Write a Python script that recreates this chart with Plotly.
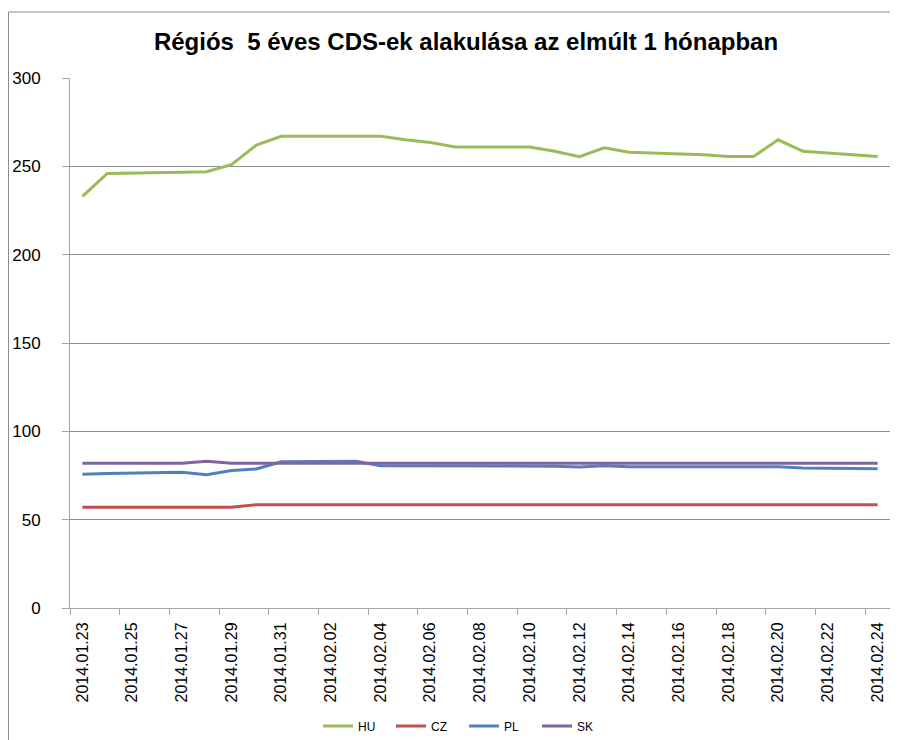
import plotly.graph_objects as go

dates = ["2014-01-23", "2014-01-24", "2014-01-27", "2014-01-28", "2014-01-29", "2014-01-30",
         "2014-01-31", "2014-02-03", "2014-02-04", "2014-02-05", "2014-02-06", "2014-02-07",
         "2014-02-10", "2014-02-11", "2014-02-12", "2014-02-13", "2014-02-14", "2014-02-17",
         "2014-02-18", "2014-02-19", "2014-02-20", "2014-02-21", "2014-02-24"]

hu = [233, 246, 246.7, 247, 251, 262, 267, 267, 267, 265, 263.5, 261,
      261, 258.5, 255.5, 260.5, 258, 256.5, 255.5, 255.5, 265, 258.5, 255.5]
cz = [57, 57, 57, 57, 57, 58.5, 58.5, 58.5, 58.5, 58.5, 58.5, 58.5,
      58.5, 58.5, 58.5, 58.5, 58.5, 58.5, 58.5, 58.5, 58.5, 58.5, 58.5]
pl = [75.7, 76.2, 76.8, 75.5, 77.8, 78.7, 82.8, 83, 80.5, 80.5, 80.5, 80.5,
      80.5, 80.3, 79.8, 80.5, 80, 80, 80, 80, 80, 79.3, 78.8]
sk = [82, 82, 82, 83, 82, 82, 82, 82, 82, 82, 82, 82,
      82, 82, 82, 82, 82, 82, 82, 82, 82, 82, 82]

series = [("HU", hu, "#9BBB59"), ("CZ", cz, "#C0504D"), ("PL", pl, "#4F81BD"), ("SK", sk, "#8064A2")]

title_text = "Régiós  5 éves CDS-ek alakulása az elmúlt 1 hónapban"

fig = go.Figure()
for name, vals, col in series:
    fig.add_trace(go.Scatter(x=dates, y=vals, name=name, mode="lines",
                             line=dict(color=col, width=3)))

# page is drawn with an 8px body margin; the figure is sized to compensate
OFF = 8
W, H = 882, 744
L, T, R, B = 70 - OFF, 78 - OFF, 882, 608 - OFF
font = "Liberation Sans, Arial, sans-serif"
fig.update_layout(
    width=W, height=H,
    margin=dict(l=L, r=W - R, t=T, b=H - B, autoexpand=False),
    paper_bgcolor="white", plot_bgcolor="white",
    title=dict(text="<b>" + title_text + "</b>", x=(466 - OFF) / W, xanchor="center",
               y=1 - (42 - OFF) / H, yanchor="middle",
               font=dict(family=font, size=24, color="#000")),
    font=dict(family=font, color="#000"),
    showlegend=True,
    legend=dict(orientation="h", x=(318 - OFF - L) / (R - L), xanchor="left",
                y=(B - (726 - OFF)) / (B - T), yanchor="middle", entrywidth=28,
                font=dict(size=12, color="#000"), bgcolor="rgba(0,0,0,0)"),
    xaxis=dict(type="date", range=["2014-01-22 12:00", "2014-02-24 12:00"],
               tick0="2014-01-23", dtick=2 * 86400000, tickformat="%Y.%m.%d", tickangle=-90,
               ticks="", showgrid=False, showline=True, linecolor="#a6a6a6", linewidth=1,
               ticklabelstandoff=7, automargin=False,
               tickfont=dict(size=16, color="#000"),
               minor=dict(tick0="2014-01-22 12:00", dtick=2 * 86400000, ticks="outside",
                          ticklen=6, tickcolor="#a6a6a6", showgrid=False)),
    yaxis=dict(range=[0, 300], dtick=50, showgrid=True, gridcolor="#8c8c8c", gridwidth=1,
               showline=True, linecolor="#a6a6a6", ticks="outside", ticklen=7, tickcolor="#a6a6a6",
               ticklabelstandoff=18, automargin=False,
               tickfont=dict(size=17, color="#000"), zeroline=False),
    shapes=[
        dict(type="line", xref="paper", yref="paper", x0=(0.5 - L) / (R - L), x1=(W - L) / (R - L),
             y0=(B - 4) / (B - T), y1=(B - 4) / (B - T), line=dict(color="#8c8c8c", width=1)),
        dict(type="line", xref="paper", yref="paper", x0=(0.5 - L) / (R - L), x1=(0.5 - L) / (R - L),
             y0=(B - 4) / (B - T), y1=(B - H) / (B - T), line=dict(color="#8c8c8c", width=1)),
    ],
)

fig.write_html("out.html")
